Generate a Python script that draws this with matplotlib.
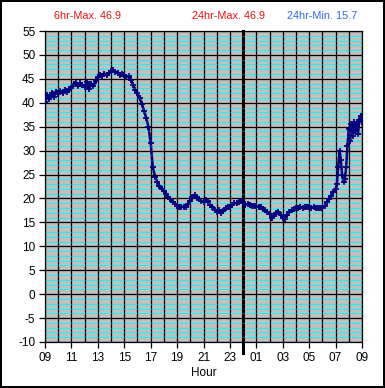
import numpy as np
import matplotlib.pyplot as plt

# temperature readings, every 10 min from 09:00 (hours 0..22)
temp_10min = [
    40.2, 41.6, 40.8, 42.0, 41.3, 42.2,   # 09
    41.9, 42.4, 42.0, 42.6, 42.3, 42.9,   # 10
    43.0, 43.9, 44.1, 43.5, 44.2, 43.7,   # 11
    43.4, 44.3, 42.9, 44.0, 43.5, 44.6,   # 12
    45.4, 45.9, 45.5, 46.1, 45.7, 46.2,   # 13
    46.6, 46.9, 46.5, 46.2, 45.8, 46.0,   # 14
    45.8, 45.4, 45.6, 44.8, 43.7, 42.7,   # 15
    42.0, 41.0, 39.8, 38.3, 36.8, 35.0,   # 16
    31.5, 26.5, 24.5, 23.5, 22.6, 22.0,   # 17
    21.5, 20.9, 20.3, 19.8, 19.3, 18.8,   # 18
    18.4, 18.2, 18.2, 18.3, 18.3, 18.8,   # 19
    19.5, 20.4, 20.7, 20.2, 19.8, 19.4,   # 20
    19.3, 19.7, 19.4, 18.6, 18.3, 17.6,   # 21
    17.2, 17.6, 17.0, 17.3, 18.0, 18.3,   # 22
    18.3, 18.6, 19.0, 19.0, 19.2, 19.5,   # 23
    19.3, 18.7, 18.8, 18.6, 18.5, 18.4,   # 00
    18.4, 18.2, 18.3, 17.8, 17.6, 17.2,   # 01
    16.8, 16.0, 16.3, 17.0, 17.2, 16.6,   # 02
    16.0, 15.8, 16.5, 17.1, 17.6, 17.9,   # 03
    18.0, 18.1, 18.2, 18.1, 18.2, 18.2,   # 04
    18.2, 18.1, 18.2, 18.0, 18.1, 18.0,   # 05
    18.0, 18.4, 19.2, 19.9, 20.6, 21.3,   # 06
]
# last two hours (07:00-09:00), every 6 min
tail_hours = [22.0, 22.1, 22.2, 22.3, 22.4, 22.5, 22.6, 22.7, 22.8, 22.9, 23.0,
              23.1, 23.2, 23.3, 23.4, 23.5, 23.6, 23.7, 23.8, 23.9, 24.0]
tail_temp = [21.9, 23.0, 26.5, 30.0, 28.0, 24.8, 23.5, 24.0, 26.5, 31.0, 34.5,
             32.0, 35.5, 33.0, 36.0, 34.0, 35.5, 33.5, 36.5, 37.2, 36.0]

hour_labels = ["09", "11", "13", "15", "17", "19", "21", "23",
               "01", "03", "05", "07", "09"]
stats = ["6hr-Max. 46.9", "24hr-Max. 46.9", "24hr-Min. 15.7"]

hours = np.concatenate([np.arange(len(temp_10min)) / 6.0, tail_hours])
temps = np.concatenate([temp_10min, tail_temp])

plt.rcParams["font.family"] = ["Liberation Sans", "DejaVu Sans"]
fig = plt.figure(figsize=(3.85, 3.88), dpi=100, edgecolor="black", linewidth=1.5)
ax = fig.add_axes([45 / 385, 1 - 342 / 388, 317 / 385, 311 / 388])
ax.set_facecolor("#c0c0c0")

ax.set_xlim(0, 24)
ax.set_ylim(-10, 55)

# grid: cyan every degree, black every 5 deg and every hour
for v in range(-10, 56):
    if v % 5:
        ax.axhline(v, color="#00ffff", lw=0.7, zorder=1)
for v in range(-10, 56, 5):
    ax.axhline(v, color="black", lw=0.9, zorder=2)
for h in range(25):
    ax.axvline(h, color="black", lw=0.9, zorder=2)
ax.axvline(15, ymin=-0.036, ymax=1.0, color="black", lw=2.2, zorder=3, clip_on=False)

ax.plot(hours, temps, color="#000080", lw=1.8, marker="+", ms=4.5, mew=1.3, zorder=4)

ax.set_xticks(range(0, 25, 2))
ax.set_xticklabels(hour_labels, fontsize=8.5)
ax.set_yticks(range(-10, 56, 5))
ax.set_yticklabels([str(v) for v in range(-10, 56, 5)], fontsize=8.5)
ax.tick_params(length=4, width=0.9, color="black", pad=3)
for s in ax.spines.values():
    s.set_linewidth(0.9)
ax.set_xlabel("Hour", fontsize=8.5, labelpad=2)

fig.text(54 / 385, 1 - 16 / 388, stats[0], color="#ee1111", fontsize=7.8, va="center")
fig.text(228 / 385, 1 - 16 / 388, stats[1], color="#ee1111", fontsize=7.8, va="center", ha="center")
fig.text(357 / 385, 1 - 16 / 388, stats[2], color="#3366ee", fontsize=7.8, va="center", ha="right")

fig.savefig("out.png", dpi=100)
